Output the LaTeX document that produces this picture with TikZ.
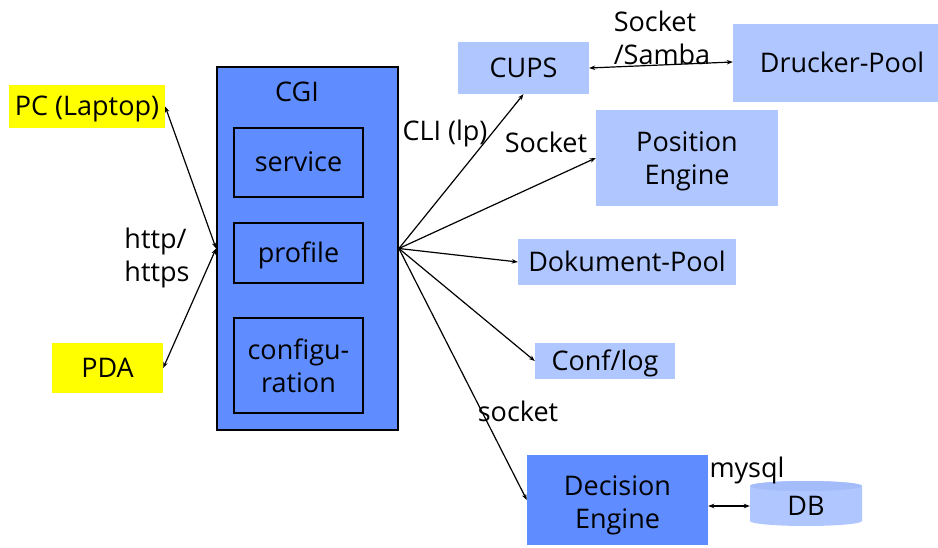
\documentclass[tikz,border=0pt]{standalone}
\usepackage{fontspec}
\setmainfont{Open Sans}
\usetikzlibrary{arrows.meta}
\definecolor{cgiblue}{RGB}{95,140,255}
\definecolor{paleblue}{RGB}{176,198,255}
\definecolor{dbtop}{RGB}{164,188,250}
\definecolor{hiyellow}{RGB}{255,255,0}
\tikzset{
  every node/.style={font=\fontsize{27}{33}\selectfont, inner sep=0pt, align=center},
  oneline/.style={text height=19pt, text depth=0pt},
  yellowbox/.style={fill=hiyellow, oneline},
  palebox/.style={fill=paleblue},
  darkbox/.style={fill=cgiblue},
  subbox/.style={draw=black, line width=1.5pt, minimum width=129pt},
  link/.style={line width=1.2pt, -{Stealth[length=6pt,width=4.5pt]}},
  biline/.style={line width=1.2pt, {Stealth[length=6pt,width=4.5pt]}-{Stealth[length=6pt,width=4.5pt]}},
  caption/.style={align=left}
}
\begin{document}
\begin{tikzpicture}[x=1pt,y=-1pt]
\useasboundingbox (0,0) rectangle (938,548);

% clients
\node[yellowbox, minimum width=156pt, minimum height=43pt] (pc) at (87,106.5) {PC (Laptop)};
\node[yellowbox, minimum width=111pt, minimum height=50pt] (pda) at (107.5,368) {PDA};

% CGI block with its parts
\node[darkbox, draw=black, line width=1.8pt, minimum width=181pt, minimum height=363pt] (cgi) at (307.5,248.5) {};
\node[oneline] (cgilabel) at (297,92) {CGI};
\node[subbox, oneline, minimum height=69pt] (service) at (298.5,162.5) {service};
\node[subbox, oneline, minimum height=60pt] (profile) at (298.5,253) {profile};
\node[subbox, minimum height=95pt] (config) at (298.5,365.5) {configu-\\ration};

% back-end components
\node[palebox, oneline, minimum width=131pt, minimum height=52pt] (cups) at (523.5,68) {CUPS};
\node[palebox, oneline, minimum width=218pt, minimum height=78pt] (drucker) at (842,63) {Drucker-Pool};
\node[palebox, minimum width=182pt, minimum height=96pt] (pos) at (687,158) {};
\node (postext) at (687,161) {Position\\Engine};
\node[palebox, oneline, minimum width=218pt, minimum height=46pt] (dok) at (627,262) {Dokument-Pool};
\node[palebox, oneline, minimum width=140pt, minimum height=36pt] (conf) at (605,361) {Conf/log};
\node[darkbox, minimum width=181pt, minimum height=90pt] (dec) at (617.5,500) {};
\node (dectext) at (617.5,505) {Decision\\Engine};

% database cylinder
\fill[paleblue] (750,486) -- (750,521) arc[start angle=180, end angle=0, x radius=56, y radius=5]
  -- (862,486) arc[start angle=0, end angle=-180, x radius=56, y radius=5] -- cycle;
\fill[dbtop] (806,486) ellipse[x radius=56, y radius=5];
\node[oneline, minimum width=112pt, minimum height=45pt] (db) at (806,506) {DB};

% client connections
\draw[biline] (pc.east) -- (cgi.west);
\draw[biline] (pda.east) -- (cgi.west);

% connections from the CGI
\draw[link] (cgi.east) -- (cups.south);
\draw[link] (cgi.east) -- (pos.west);
\draw[link] (cgi.east) -- (dok.west);
\draw[link] (cgi.east) -- (conf.west);
\draw[link] (cgi.east) -- (dec.west);
\draw[biline] (cups.east) -- ([yshift=1pt]drucker.west);
\draw[biline] (db.west -| dec.east) -- (db.west);

% labels
\node[caption] (lhttp) at (157,258) {http/\\https};
\node (lcli) at (445,133) {CLI (lp)};
\node (lsock1) at (546,142) {Socket};
\node[caption] (lsamba) at (662,38) {Socket\\/Samba};
\node (lsock2) at (518,411) {socket};
\node (lmysql) at (747,470) {mysql};
\end{tikzpicture}
\end{document}
